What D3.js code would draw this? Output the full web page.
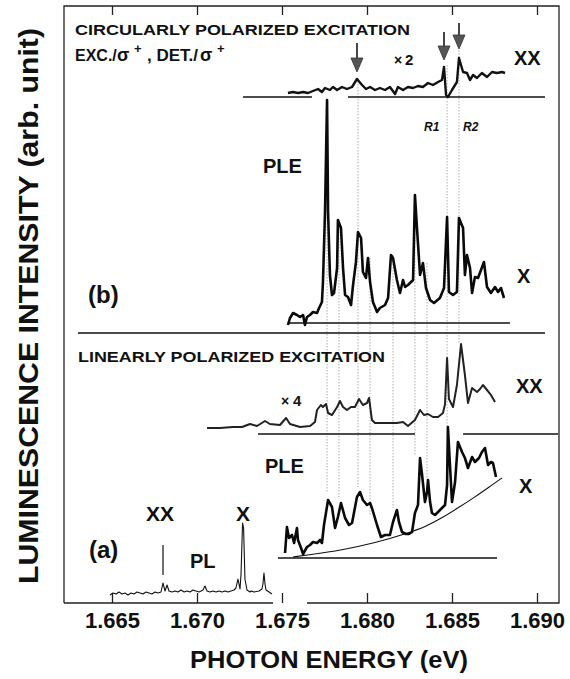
<!DOCTYPE html>
<html><head><meta charset="utf-8">
<script src="https://cdn.jsdelivr.net/npm/d3@7"></script>
<style>
body{margin:0;background:#fff}
svg{display:block}
text{font-family:"Liberation Sans",Arial,Helvetica,sans-serif;font-weight:bold;fill:#111}
</style>
</head><body><svg id="c" width="570" height="679"></svg>
<script>
// ---------- DATA (photon energy in eV, intensity in arb. units above each trace's baseline) ----------
const xTickValues = [1.665, 1.670, 1.675, 1.680, 1.685, 1.690];
const xTickLabels = ["1.665", "1.670", "1.675", "1.680", "1.685", "1.690"];

// vertical offsets (arb. units) of each trace's baseline
const traceNames   = ["PL", "PLE_lin", "XX_lin", "PLE_circ", "XX_circ"];
const traceOffsets = [9, 45, 169, 280, 506];

// (a) PL spectrum
const plE = [1.66488,1.66506,1.66524,1.66541,1.66559,1.66576,1.66594,1.66612,1.66629,1.66647,1.66665,1.66682,1.66700,1.66718,1.66735,1.66753,1.66771,1.66788,1.66800,1.66812,1.66824,1.66835,1.66853,1.66871,1.66888,1.66906,1.66924,1.66941,1.66959,1.66976,1.66994,1.67012,1.67024,1.67035,1.67047,1.67059,1.67076,1.67094,1.67112,1.67129,1.67147,1.67165,1.67182,1.67200,1.67218,1.67229,1.67241,1.67253,1.67259,1.67268,1.67274,1.67282,1.67294,1.67312,1.67318,1.67335,1.67365,1.67382,1.67388,1.67394,1.67400,1.67406,1.67424,1.67441];
const plI = [-1,1,0,2,0,1,-1,1,0,2,1,0,2,1,0,2,1,2,11,3,9,3,2,3,2,4,2,3,2,4,3,2,3,4,8,3,2,3,2,3,2,3,2,3,4,6,15,5,20,71,66,15,4,2,3,2,3,5,10,21,10,4,2,0];

// (a) PLE, linear excitation (X detection)
const pleLinE = [1.67518,1.67529,1.67541,1.67559,1.67571,1.67588,1.67594,1.67612,1.67624,1.67647,1.67665,1.67682,1.67706,1.67724,1.67735,1.67747,1.67771,1.67794,1.67812,1.67829,1.67847,1.67871,1.67894,1.67912,1.67941,1.67959,1.67976,1.68000,1.68018,1.68029,1.68059,1.68082,1.68106,1.68135,1.68153,1.68176,1.68188,1.68206,1.68229,1.68247,1.68265,1.68282,1.68300,1.68312,1.68324,1.68341,1.68353,1.68359,1.68371,1.68382,1.68400,1.68418,1.68441,1.68459,1.68471,1.68476,1.68488,1.68500,1.68518,1.68535,1.68559,1.68576,1.68594,1.68618,1.68635,1.68659,1.68676,1.68694,1.68712,1.68729,1.68741,1.68759];
const pleLinI = [5,31,20,23,15,30,18,10,4,11,13,16,15,18,15,33,58,51,30,41,55,40,33,35,61,66,58,53,55,50,33,21,23,23,36,48,36,26,24,24,26,45,53,100,83,56,66,78,56,45,43,46,50,53,73,131,93,56,76,116,106,100,90,101,96,100,106,110,93,96,95,81];

// (a) smooth background under the linear PLE
const bgE = [1.67565,1.67653,1.67853,1.68047,1.68241,1.68341,1.68441,1.68535,1.68635,1.68735,1.68794];
const bgI = [1,3,8,15,25,31,40,50,61,73,80];

// (a) XX luminescence, linear excitation (x4)
const xxLinE = [1.67059,1.67135,1.67212,1.67265,1.67312,1.67353,1.67400,1.67429,1.67488,1.67524,1.67547,1.67606,1.67665,1.67694,1.67706,1.67729,1.67741,1.67759,1.67771,1.67794,1.67824,1.67841,1.67859,1.67882,1.67906,1.67929,1.67953,1.67976,1.68000,1.68012,1.68029,1.68047,1.68088,1.68124,1.68176,1.68212,1.68241,1.68282,1.68312,1.68335,1.68359,1.68388,1.68418,1.68447,1.68459,1.68471,1.68482,1.68506,1.68529,1.68553,1.68576,1.68594,1.68618,1.68647,1.68665,1.68682,1.68706,1.68729,1.68753];
const xxLinI = [6,6,7,7,10,8,13,10,9,16,10,7,8,12,24,29,27,30,21,19,27,33,27,24,27,27,35,29,31,36,14,11,11,11,11,12,8,14,24,19,20,17,17,21,30,76,35,27,49,90,59,31,46,42,45,49,44,39,32];

// (b) PLE, circular excitation (X detection)
const pleCircE = [1.67535,1.67547,1.67565,1.67588,1.67606,1.67624,1.67635,1.67647,1.67665,1.67682,1.67706,1.67718,1.67735,1.67741,1.67753,1.67765,1.67771,1.67782,1.67794,1.67806,1.67824,1.67829,1.67847,1.67859,1.67871,1.67888,1.67906,1.67918,1.67935,1.67947,1.67965,1.67976,1.67994,1.68006,1.68018,1.68035,1.68059,1.68076,1.68106,1.68124,1.68141,1.68153,1.68176,1.68194,1.68212,1.68224,1.68241,1.68271,1.68282,1.68294,1.68312,1.68329,1.68347,1.68371,1.68394,1.68429,1.68453,1.68471,1.68482,1.68506,1.68529,1.68541,1.68565,1.68576,1.68588,1.68606,1.68618,1.68635,1.68653,1.68688,1.68706,1.68729,1.68753,1.68771,1.68788,1.68806];
const pleCircI = [-2,5,10,8,6,8,-2,6,8,11,10,15,21,41,111,223,111,48,28,30,55,103,95,55,28,26,18,38,61,91,85,51,45,65,41,21,11,15,18,25,68,65,43,30,43,36,38,43,128,95,48,60,35,23,20,25,35,106,31,28,31,105,95,48,68,55,30,46,45,61,36,30,36,31,35,25];

// (b) XX luminescence, circular excitation (x2)
const xxCircE = [1.67535,1.67565,1.67594,1.67624,1.67653,1.67682,1.67712,1.67735,1.67753,1.67782,1.67800,1.67824,1.67853,1.67882,1.67912,1.67941,1.67971,1.67994,1.68018,1.68047,1.68076,1.68106,1.68135,1.68165,1.68182,1.68212,1.68241,1.68271,1.68300,1.68329,1.68359,1.68388,1.68418,1.68441,1.68453,1.68465,1.68476,1.68500,1.68529,1.68541,1.68565,1.68588,1.68606,1.68624,1.68647,1.68676,1.68706,1.68735,1.68765,1.68794,1.68812];
const xxCircI = [4,5,4,5,4,6,8,5,9,7,10,7,10,8,10,18,12,8,10,7,9,7,10,3,10,7,10,9,11,10,14,12,15,17,30,2,0,7,15,39,25,24,17,22,19,24,20,25,24,25,24];

// reference baselines [trace, startE, endE]
const baseTrace = ["PLE_lin","XX_lin","XX_lin","PLE_circ","XX_circ","XX_circ"];
const baseStart = [1.67476, 1.67359, 1.68565, 1.67535, 1.67271, 1.67888];
const baseEnd   = [1.68765, 1.68282, 1.69124, 1.68841, 1.67676, 1.69047];

// arrows over XX (circular) resonances
const arrowE   = [1.67941, 1.68453, 1.68541];
const arrowTop = [54, 65, 74];
const arrowTip = [25, 37, 48];

// dotted guide lines (absolute arb. units)
const guideE      = [1.67765, 1.67835, 1.67947, 1.68018, 1.68153, 1.68282, 1.68353, 1.68471, 1.68541];
const guideTop    = [503, 383, 525, 345, 348, 408, 340, 538, 553];
const guideBottom = [111, 106, 116, 88, 95, 148, 123, 176, 259];

// XX marker on PL
const xxMarkE = 1.66800, xxMarkLow = 19, xxMarkHigh = 49;

// ---------- DRAW ----------
const svg = d3.select("#c");
const x = d3.scaleLinear().domain([1.665, 1.690]).range([112, 537]);
const y = d3.scaleLinear().domain([0, 600]).range([603, 3]);
const off = n => traceOffsets[traceNames.indexOf(n)];
const zip = (E, I, o) => E.map((e, i) => [e, I[i] + o]);
const line = d3.line().x(d => x(d[0])).y(d => y(d[1]));

// frame
const F = {l:64, r:559, t:6, b:603};
svg.append("path")
  .attr("d", `M${F.l},${F.b}V${F.t}H${F.r}V${F.b}H307M273,${F.b}H${F.l}`)
  .attr("fill","none").attr("stroke","#222").attr("stroke-width",1.3);

// axes ticks
const gB = svg.append("g").attr("transform",`translate(0,${F.b})`)
  .call(d3.axisBottom(x).tickValues(xTickValues).tickSize(-10).tickFormat((d,i)=>xTickLabels[i]));
gB.select(".domain").remove();
gB.selectAll("line").attr("stroke","#222").attr("stroke-width",1.3);
gB.selectAll("text").attr("y",25).attr("dy",0).attr("font-size",22)
  .attr("font-family",'"Liberation Sans",Arial,sans-serif').attr("font-weight","bold").attr("fill","#111");
const gT = svg.append("g").attr("transform",`translate(0,${F.t})`)
  .call(d3.axisTop(x).tickValues(xTickValues).tickSize(-9).tickFormat(""));
gT.select(".domain").remove();
gT.selectAll("line").attr("stroke","#222").attr("stroke-width",1.3);

// dotted guides
svg.append("g").selectAll("line").data(guideE).join("line")
  .attr("x1",d=>x(d)).attr("x2",d=>x(d))
  .attr("y1",(d,i)=>y(guideTop[i])).attr("y2",(d,i)=>y(guideBottom[i]))
  .attr("stroke","#999").attr("stroke-width",0.8).attr("stroke-dasharray","1.5,1.5");

// divider between (a) and (b)
svg.append("line").attr("x1",78).attr("x2",545).attr("y1",333).attr("y2",333)
  .attr("stroke","#111").attr("stroke-width",1.4);

// baselines
baseTrace.forEach((t,i)=>{
  svg.append("line").attr("x1",x(baseStart[i])).attr("x2",x(baseEnd[i]))
    .attr("y1",y(off(t))).attr("y2",y(off(t)))
    .attr("stroke","#111").attr("stroke-width",1.5);
});

// background curve
svg.append("path").datum(zip(bgE,bgI,off("PLE_lin")))
  .attr("d", d3.line().x(d=>x(d[0])).y(d=>y(d[1])).curve(d3.curveBasis))
  .attr("fill","none").attr("stroke","#111").attr("stroke-width",1.1);

// traces
const traces = [
  [plE, plI, "PL", 1.1, "#111"],
  [pleLinE, pleLinI, "PLE_lin", 2.6, "#0a0a0a"],
  [xxLinE, xxLinI, "XX_lin", 2.0, "#222"],
  [pleCircE, pleCircI, "PLE_circ", 2.6, "#0a0a0a"],
  [xxCircE, xxCircI, "XX_circ", 2.4, "#111"]
];
traces.forEach(([E,I,n,w,c])=>{
  svg.append("path").datum(zip(E,I,off(n))).attr("d",line)
    .attr("fill","none").attr("stroke",c).attr("stroke-width",w)
    .attr("stroke-linejoin","round");
});

// XX marker on PL
svg.append("line").attr("x1",x(xxMarkE)).attr("x2",x(xxMarkE))
  .attr("y1",y(off("PL")+xxMarkLow)).attr("y2",y(off("PL")+xxMarkHigh))
  .attr("stroke","#111").attr("stroke-width",1.2);

// arrows
const ag = svg.append("g");
arrowE.forEach((e,i)=>{
  const ax = x(e), yt = y(off("XX_circ")+arrowTop[i]), yp = y(off("XX_circ")+arrowTip[i]);
  ag.append("line").attr("x1",ax).attr("x2",ax).attr("y1",yt).attr("y2",yp-10)
    .attr("stroke","#444").attr("stroke-width",2);
  ag.append("path").attr("d",`M${ax-6},${yp-14}L${ax+6},${yp-14}L${ax},${yp}Z`)
    .attr("fill","#555").attr("stroke","#333").attr("stroke-width",0.8);
});

// text helper
function T(s, px, py, size, opt={}){
  const t = svg.append("text").attr("x",px).attr("y",py).attr("font-size",size).text(s);
  if(opt.anchor) t.attr("text-anchor",opt.anchor);
  if(opt.len) t.attr("textLength",opt.len).attr("lengthAdjust","spacingAndGlyphs");
  if(opt.style) t.attr("font-style",opt.style);
  if(opt.weight) t.attr("font-weight",opt.weight);
  if(opt.family) t.attr("font-family",opt.family);
  if(opt.rot) t.attr("transform",`rotate(${opt.rot},${px},${py})`);
  return t;
}
T("CIRCULARLY POLARIZED EXCITATION", 75, 35, 15, {len:335});
T("EXC./", 75, 61, 16);
T("σ", 117, 61, 18, {weight:"normal", family:'"Liberation Serif",serif'});
T("+", 134, 53, 13);
T(", DET./", 147, 61, 17);
T("σ", 200, 61, 18, {weight:"normal", family:'"Liberation Serif",serif'});
T("+", 217, 53, 13);
T("×", 394, 65, 14, {weight:"normal"});
T("2", 405, 65, 15);
T("XX", 514, 65, 20);
T("R1", 424, 131, 12, {style:"italic"});
T("R2", 463, 131, 12, {style:"italic"});
T("PLE", 263, 173, 20);
T("X", 517, 283, 20);
T("(b)", 88, 303, 24);
T("LINEARLY POLARIZED EXCITATION", 78, 362, 15, {len:307});
T("×", 281, 406, 14, {weight:"normal"});
T("4", 293, 406, 15);
T("XX", 516, 393, 20);
T("PLE", 265, 473, 20);
T("X", 519, 493, 20);
T("XX", 146, 521, 21);
T("X", 236, 521, 21);
T("(a)", 89, 558, 24);
T("PL", 190, 568, 20);
T("PHOTON ENERGY (eV)", 329, 668, 24, {anchor:"middle", len:278});
T("LUMINESCENCE INTENSITY (arb. unit)", 38, 306, 27, {anchor:"middle", len:556, rot:-90});
</script>
</body></html>
